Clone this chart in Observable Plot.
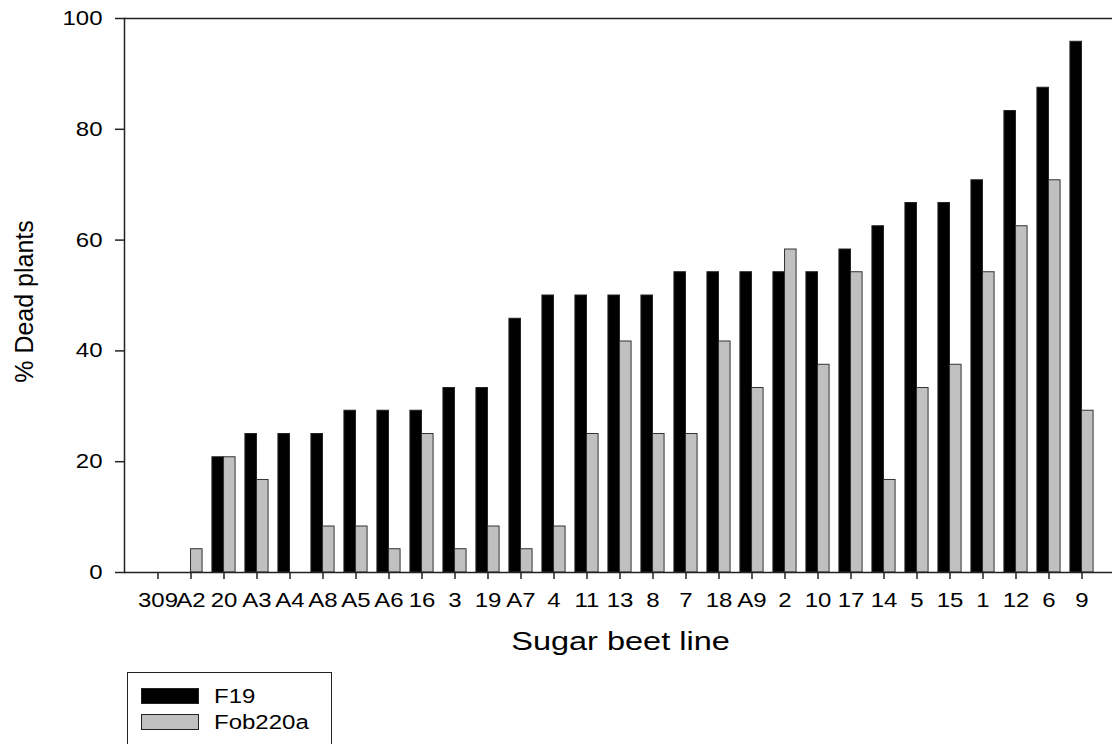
<!DOCTYPE html>
<html><head><meta charset="utf-8">
<script src="https://cdn.jsdelivr.net/npm/d3@7"></script>
<script src="https://cdn.jsdelivr.net/npm/@observablehq/plot@0.6"></script>
<style>
body{margin:0;background:#fff;font-family:"Liberation Sans",Arial,sans-serif;position:relative;width:1112px;height:744px;overflow:hidden}
#chart svg{display:block}
#legend{position:absolute;left:127px;top:672px;width:205px;height:100px;border:1.5px solid #222;box-sizing:border-box;background:#fff}
#legend .sw{position:absolute;left:12.5px;width:58px;height:16px;box-sizing:border-box;border:1.5px solid #222}
#legend .lb{position:absolute;left:85.5px;font-size:20px;line-height:20px;color:#000;white-space:nowrap;transform:scaleX(1.2);transform-origin:left center}
</style></head>
<body><div id="chart"></div><div id="legend"></div>
<script>
const lines = ["309","A2","20","A3","A4","A8","A5","A6","16","3","19","A7","4","11","13","8","7","18","A9","2","10","17","14","5","15","1","12","6","9"];
const f19 = [0,0,20.8,25,25,25,29.2,29.2,29.2,33.3,33.3,45.8,50,50,50,50,54.2,54.2,54.2,54.2,54.2,58.3,62.5,66.7,66.7,70.8,83.3,87.5,95.8];
const fob220a = [0,4.2,20.8,16.7,0,8.3,8.3,4.2,25,4.2,8.3,4.2,8.3,25,41.7,25,25,41.7,33.3,58.3,37.5,54.2,16.7,33.3,37.5,54.2,62.5,70.8,29.2];
const seriesNames = ["F19","Fob220a"];
const seriesColors = ["#000000","#c0c0c0"];
const yTicks = [0,20,40,60,80,100];
const xTitle = "Sugar beet line";
const yTitle = "% Dead plants";

const rowsF19 = lines.map((l,i)=>({line:l, series:seriesNames[0], value:f19[i]}));
const rowsFob = lines.map((l,i)=>({line:l, series:seriesNames[1], value:fob220a[i]}));

const half = 16.53, barW = 11.6;
const font = "'Liberation Sans', Arial, sans-serif";

const plot = Plot.plot({
  width:1112, height:662, marginLeft:124, marginRight:0, marginTop:18, marginBottom:90,
  style:{fontFamily:font, fontSize:"20px", color:"#000", background:"#fff", overflow:"visible"},
  x:{type:"band", domain:lines, range:[124,1115.4], paddingInner:0, paddingOuter:0.5, align:0.5},
  y:{domain:[0,100], range:[572,18]},
  marks:[
    Plot.barY(rowsF19, {x:"line", y:"value", fill:seriesColors[0], stroke:"#222", strokeWidth:1, insetLeft:half-barW, insetRight:half}),
    Plot.barY(rowsFob, {x:"line", y:"value", fill:seriesColors[1], stroke:"#333", strokeWidth:1, insetLeft:half, insetRight:half-barW}),
    Plot.ruleY([0,100], {stroke:"#222", strokeWidth:1.5}),
    Plot.frame({anchor:"left", stroke:"#222", strokeWidth:1.5}),
    Plot.axisX({tickSize:7, tickPadding:13, stroke:"#222", strokeWidth:1.5, fontSize:20, fill:"#000", label:null}),
    Plot.axisY({ticks:yTicks, tickSize:9, tickPadding:13, stroke:"#222", strokeWidth:1.5, fontSize:20, fill:"#000", label:null}),
    Plot.text([xTitle], {frameAnchor:"bottom", lineAnchor:"bottom", dy:77, dx:2, fontSize:26, fill:"#000", className:"xtitle"}),
    Plot.text([yTitle], {frameAnchor:"left", textAnchor:"middle", lineAnchor:"middle", rotate:-90, dx:-100, dy:6, fontSize:25, fill:"#000"})
  ]
});
document.getElementById("chart").appendChild(plot);

plot.querySelectorAll('g[aria-label="x-axis tick label"] text, g[aria-label="y-axis tick label"] text').forEach(t=>{
  t.setAttribute("transform", (t.getAttribute("transform")||"") + " scale(1.2,1)");
});
plot.querySelectorAll('.xtitle text').forEach(t=>{
  t.setAttribute("transform", (t.getAttribute("transform")||"") + " scale(1.25,1)");
});

const legend = document.getElementById("legend");
seriesNames.forEach((name,i)=>{
  const sw = document.createElement("div");
  sw.className = "sw";
  sw.style.top = (14.5 + 26*i) + "px";
  sw.style.background = seriesColors[i];
  legend.appendChild(sw);
  const lb = document.createElement("div");
  lb.className = "lb";
  lb.style.top = (12.5 + 26*i) + "px";
  lb.textContent = name;
  legend.appendChild(lb);
});
</script>
</body></html>
